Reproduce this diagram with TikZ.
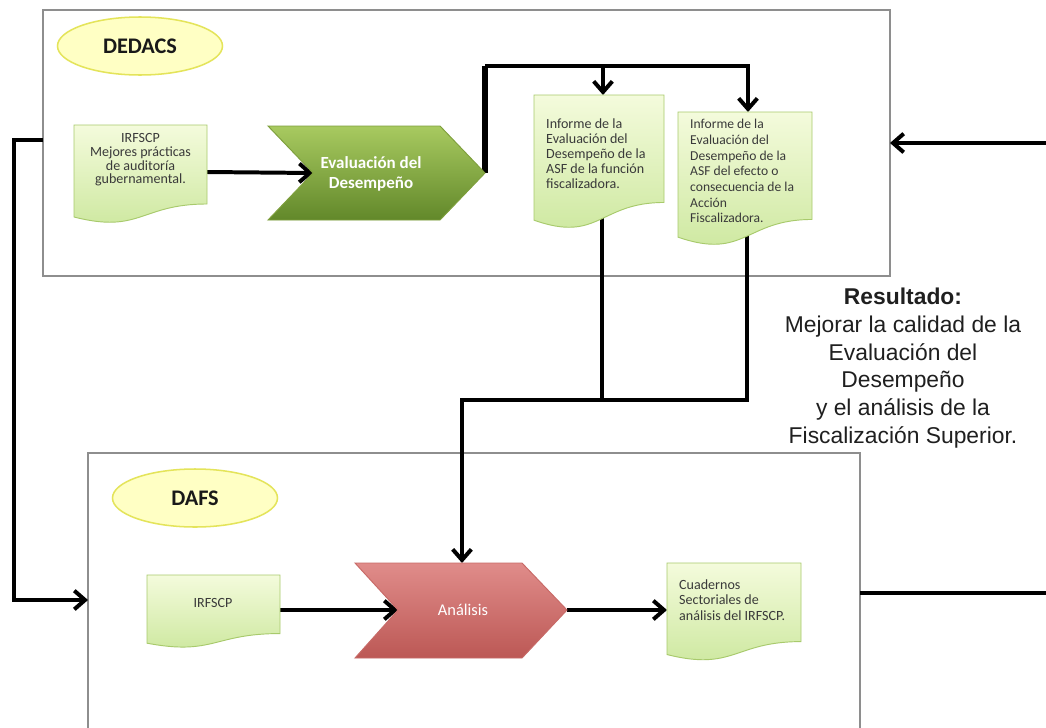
\documentclass[tikz,border=0pt]{standalone}
\usepackage{fontspec}
\setmainfont{Carlito}
\newfontfamily\arialf{Liberation Sans}
\usetikzlibrary{arrows.meta,shapes.geometric}
\definecolor{framegray}{HTML}{8E8E8E}
\definecolor{ovalfill}{HTML}{FFFFC4}
\definecolor{ovalline}{HTML}{E4E45A}
\definecolor{docTop}{HTML}{F4FBDC}
\definecolor{docBot}{HTML}{CBE79C}
\definecolor{docLine}{HTML}{A8CA6C}
\definecolor{doctxt}{HTML}{3A3A3A}
\definecolor{evTop}{HTML}{A8CA60}
\definecolor{evBot}{HTML}{62882A}
\definecolor{evLine}{HTML}{7E9F3C}
\definecolor{anTop}{HTML}{E08C8A}
\definecolor{anBot}{HTML}{BC5855}
\definecolor{anLine}{HTML}{C86A67}
\newcommand\docshape[4]{%
  \path[docfill] (#1,#2) -- (#3,#2) -- (#3,{#2+0.802*#4})
    .. controls ({(#1+#3)/2},{#2+0.802*#4}) and ({(#1+#3)/2},{#2+1.107*#4}) ..
    (#1,{#2+0.934*#4}) -- cycle;}
\begin{document}
\begin{tikzpicture}[x=0.03cm,y=-0.03cm,
  frame/.style={draw=framegray, line width=1.7pt},
  oval/.style={ellipse, draw=ovalline, fill=ovalfill, line width=1.3pt,
    minimum width=4.95cm, minimum height=1.74cm, inner sep=0pt,
    font=\bfseries\fontsize{19}{21}\selectfont, text=black!90},
  docfill/.style={top color=docTop, bottom color=docBot, draw=docLine, line width=0.8pt},
  doctext/.style={text=doctxt, inner sep=0pt},
  wire/.style={line width=3.4pt},
  conn/.style={wire, -{Straight Barb[length=3.2mm,width=5.6mm]}},
]
\useasboundingbox (0,0) rectangle (1046,727);
\clip (0,0) rectangle (1046,727);
\fill[white] (0,0) rectangle (1046,727);

% frames
\draw[frame] (43,10) rectangle (890,276);
\draw[frame] (88,745) |- (860,453) -- (860,745);

% named points
\coordinate (topL) at (43,140);
\coordinate (topR) at (890,143);
\coordinate (botL) at (88,600);
\coordinate (botR) at (860,593);
\coordinate (irf1R) at (207,172);
\coordinate (evNotch) at (313,173);
\coordinate (evTip) at (485,173);
\coordinate (split) at (603,66);
\coordinate (d1Top) at (603,95);
\coordinate (d2Top) at (748,112);
\coordinate (d1Bot) at (602,215);
\coordinate (d2Bot) at (747,232);
\coordinate (merge) at (462,400);
\coordinate (anTopPt) at (462,563);
\coordinate (irf2R) at (280,610);
\coordinate (anNotch) at (398,610);
\coordinate (anTip) at (567,610);
\coordinate (d3L) at (667,610);
\coordinate (rightIn) at (1046,143);
\coordinate (rightOut) at (1046,593);

% connectors
\draw[conn] (irf1R) -- (evNotch);
\draw[wire, line width=4.6pt] (evTip) -- (evTip |- split);
\draw[conn] (evTip |- split) -| (d2Top);
\draw[conn] (split) -- (d1Top);
\draw[wire] (d1Bot) -- (d1Bot |- merge);
\draw[conn] (d2Bot) |- (merge) -- (anTopPt);
\draw[conn] (irf2R) -- (anNotch);
\draw[conn] (anTip) -- (d3L);
\draw[wire] (botR) -- (rightOut);
\draw[conn] (rightIn) -- (topR);
\draw[conn] (topL) -- (14,140) |- (botL);

% ovals
\node[oval] (dedacs) at (140,46) {DEDACS};
\node[oval] (dafs) at (195,498) {DAFS};

% documents
\docshape{74}{125}{207}{98.5}
\node[doctext, align=center, font=\fontsize{12}{11.6}\selectfont] (irf1) at (140.5,160)
  {IRFSCP\\Mejores prácticas\\de auditoría\\gubernamental.};
\docshape{534}{95}{664}{134}
\node[doctext, align=left, anchor=north west, font=\fontsize{12}{12.7}\selectfont] (d1) at (546,119)
  {Informe de la\\Evaluación del\\Desempeño de la\\ASF de la función\\fiscalizadora.};
\docshape{678}{112}{812}{134}
\node[doctext, align=left, anchor=north west, font=\fontsize{11.6}{13.4}\selectfont] (d2) at (690,119)
  {Informe de la\\Evaluación del\\Desempeño de la\\ASF del efecto o\\consecuencia de la\\Acción\\Fiscalizadora.};
\docshape{147}{575}{280}{73}
\node[doctext, font=\fontsize{12}{13}\selectfont] (irf2) at (213,603) {IRFSCP};
\docshape{667}{563}{801}{98}
\node[doctext, align=left, anchor=north west, font=\fontsize{12}{13.6}\selectfont] (d3) at (679,579)
  {Cuadernos\\Sectoriales de\\análisis del IRFSCP.};

% chevrons
\path[top color=evTop, bottom color=evBot, draw=evLine, line width=0.8pt]
  (268,126) -- (440,126) -- (evTip) -- (440,220) -- (268,220) -- (evNotch) -- cycle;
\node[font=\bfseries\fontsize{14.5}{16.5}\selectfont, text=white, align=center] (ev) at (371,174)
  {Evaluación del\\Desempeño};
\path[top color=anTop, bottom color=anBot, draw=anLine, line width=0.8pt]
  (355,563) -- (522,563) -- (anTip) -- (522,658) -- (355,658) -- (anNotch) -- cycle;
\node[font=\fontsize{14}{15}\selectfont, text=white] (an) at (463,610) {Análisis};

% result text
\node[font=\arialf\fontsize{19.5}{23.6}\selectfont, align=center, anchor=north, inner sep=0pt, text=black!88] (res) at (903,288)
  {\textbf{Resultado:}\\Mejorar la calidad de la\\Evaluación del\\Desempeño\\y el análisis de la\\Fiscalización Superior.};
\end{tikzpicture}
\end{document}
